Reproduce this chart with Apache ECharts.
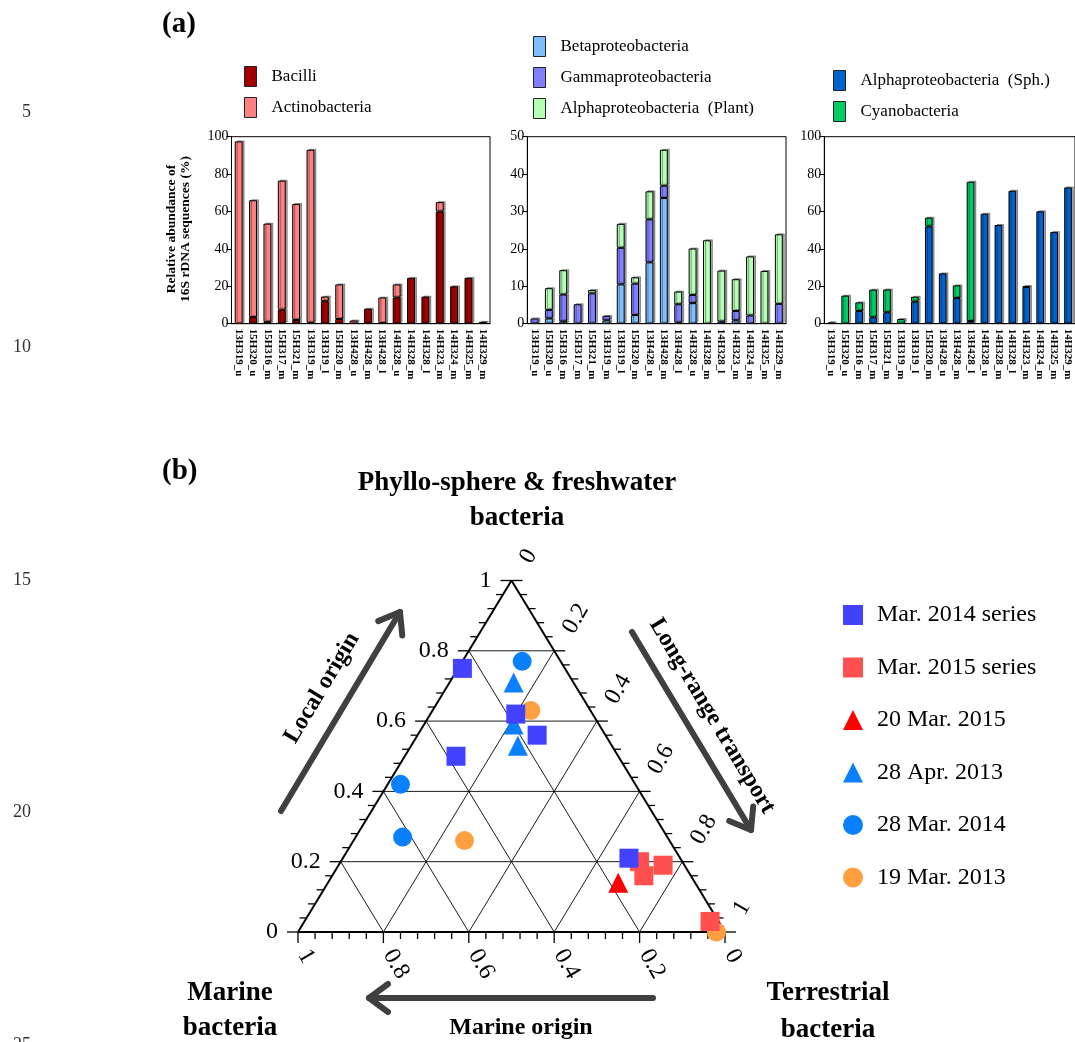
<!DOCTYPE html>
<html><head><meta charset="utf-8">
<script src="https://cdn.jsdelivr.net/npm/echarts@6/dist/echarts.min.js"></script>
<style>html,body{margin:0;padding:0;background:#fff}#c{width:1075px;height:1042px}</style>
</head><body><div id="c"></div>
<script>
// ---------- Panel (a) data ----------
const categories = ['13H319_u','15H320_u','15H316_m','15H317_m','15H321_m','13H319_m','13H319_l','15H320_m','13H428_u','13H428_m','13H428_l','14H328_u','14H328_m','14H328_l','14H323_m','14H324_m','14H325_m','14H329_m'];
const bacilli        = [0, 3.5, 1, 7.5, 2, 0.5, 12, 2.5, 0, 8, 0.3, 14, 24.5, 14.5, 60, 20, 24.5, 1];
const actinobacteria = [97.5, 62.5, 52.5, 69, 62, 92.5, 2.5, 18.5, 1.7, 0, 13.7, 7, 0, 0, 5, 0, 0, 0];
const betaproteo     = [0, 1.4, 0.6, 0, 0, 0.9, 10.5, 2.3, 16.4, 33.6, 0.3, 5.5, 0, 0, 0.9, 0, 0, 0];
const gammaproteo    = [1.4, 2.3, 7.2, 5.2, 8.1, 1.2, 9.8, 8.4, 11.5, 3.3, 4.9, 2.2, 0, 0.6, 2.5, 2.2, 0, 5.3];
const alphaPlant     = [0, 5.8, 6.5, 0, 0.9, 0, 6.4, 1.7, 7.5, 9.6, 3.4, 12.4, 22.3, 13.6, 8.5, 15.8, 14.1, 18.6];
const alphaSph       = [0.7, 0, 6.8, 3.4, 6.1, 0, 11.8, 52, 26.9, 13.7, 1.4, 58.8, 52.8, 71.1, 19.6, 60.1, 49, 72.9];
const cyanobacteria  = [0, 15, 4.6, 14.8, 12.2, 2.5, 2.6, 4.7, 0, 6.8, 74.5, 0, 0, 0, 0.4, 0, 0, 0];
const yMaxA = [100, 50, 100];
const yStepA = [20, 10, 20];

// ---------- Panel (b) data: [Phyllosphere/freshwater, Terrestrial, Marine] ----------
const mar2014Series = [[0.75,0.01,0.24],[0.62,0.20,0.18],[0.56,0.28,0.16],[0.50,0.12,0.38],[0.21,0.67,0.12]];
const mar2015Series = [[0.20,0.70,0.10],[0.16,0.73,0.11],[0.19,0.76,0.05],[0.03,0.95,0.02]];
const mar20_2015    = [[0.14,0.68,0.18]];
const apr28_2013    = [[0.71,0.15,0.14],[0.59,0.21,0.20],[0.53,0.25,0.22]];
const mar28_2014    = [[0.77,0.14,0.09],[0.42,0.03,0.55],[0.27,0.11,0.62]];
const mar19_2013    = [[0.63,0.23,0.14],[0.26,0.26,0.48],[0.00,0.98,0.02]];
const ternTickValues = [0, 0.2, 0.4, 0.6, 0.8, 1];
const ternTickLabels = ['0', '0.2', '0.4', '0.6', '0.8', '1'];
const ternMinorPerMajor = 5;

// ---------- build ----------
const SERIF = '"Liberation Serif", "Times New Roman", serif';
const chart = echarts.init(document.getElementById('c'), null, {renderer: 'canvas', width: 1075, height: 1042});

function tern(P, T) { return [T + P / 2, P]; }

const gridSegs = [];
gridSegs.push([...tern(0,0), ...tern(1,0), 2]);
gridSegs.push([...tern(1,0), ...tern(0,1), 2]);
gridSegs.push([...tern(0,0), ...tern(0,1), 2]);
ternTickValues.filter(v => v > 0 && v < 1).forEach(v => {
  gridSegs.push([...tern(v,0), ...tern(v,1-v), 1]);
  gridSegs.push([...tern(0,v), ...tern(1-v,v), 1]);
  gridSegs.push([...tern(0,1-v), ...tern(1-v,0), 1]);
});
const tickMarks = [];
const nMinor = (ternTickValues.length - 1) * ternMinorPerMajor;
for (let k = 0; k <= nMinor; k++) {
  const v = k / nMinor, major = k % ternMinorPerMajor === 0 ? 1 : 0;
  tickMarks.push([...tern(v, 0), 0, major]);
  tickMarks.push([...tern(0, 1 - v), 1, major]);
  tickMarks.push([...tern(1 - v, v), 2, major]);
}
const labelData = [];
ternTickValues.forEach((v, i) => {
  labelData.push([...tern(v, 0), 0, i]);
  labelData.push([...tern(0, 1 - v), 1, i]);
  labelData.push([...tern(1 - v, v), 2, i]);
});

const barGrids = [
  {left: 231.5, top: 136.7, width: 258.5, height: 187},
  {left: 527.3, top: 136.7, width: 258.7, height: 187},
  {left: 824.3, top: 136.7, width: 258.7, height: 187}
];
const grid = barGrids.map(g => Object.assign({show: true, borderColor: '#000', borderWidth: 1, backgroundColor: 'transparent'}, g));
grid.push({left: 298, top: 580.5, width: 427, height: 351.5});

const xAxis = barGrids.map((g, i) => ({
  type: 'category', gridIndex: i, data: categories,
  axisLine: {lineStyle: {color: '#000', width: 1}}, axisTick: {show: false},
  axisLabel: {rotate: -90, interval: 0, fontSize: 11, fontWeight: 'bold', color: '#000', margin: 5, fontFamily: SERIF}
}));
xAxis.push({type: 'value', gridIndex: 3, min: 0, max: 1, show: false});
const yAxis = barGrids.map((g, i) => ({
  type: 'value', gridIndex: i, min: 0, max: yMaxA[i], interval: yStepA[i],
  axisLine: {show: true, lineStyle: {color: '#000', width: 1}},
  axisTick: {show: true, length: 5, lineStyle: {color: '#000'}},
  splitLine: {show: false},
  axisLabel: {fontSize: 14, color: '#000', margin: 3, fontFamily: SERIF}
}));
yAxis.push({type: 'value', gridIndex: 3, min: 0, max: 1, show: false});

function barSeries(name, data, color, idx) {
  return {
    type: 'bar', name, xAxisIndex: idx, yAxisIndex: idx, stack: 'st' + idx,
    data: data.map(v => v === 0 ? '-' : v), barWidth: '55%',
    itemStyle: {color, borderColor: '#000', borderWidth: 1, shadowColor: 'rgba(0,0,0,0.35)', shadowOffsetX: 2, shadowOffsetY: -1, shadowBlur: 0},
    emphasis: {disabled: true}
  };
}
const C = {
  bac: '#A30000', act: '#FF8080', beta: '#80BFFF', gam: '#8080FF', plant: '#B3FFB3', sph: '#0062CC', cyan: '#00CC66'
};
const series = [
  barSeries('Bacilli', bacilli, C.bac, 0),
  barSeries('Actinobacteria', actinobacteria, C.act, 0),
  barSeries('Betaproteobacteria', betaproteo, C.beta, 1),
  barSeries('Gammaproteobacteria', gammaproteo, C.gam, 1),
  barSeries('Alphaproteobacteria  (Plant)', alphaPlant, C.plant, 1),
  barSeries('Alphaproteobacteria  (Sph.)', alphaSph, C.sph, 2),
  barSeries('Cyanobacteria', cyanobacteria, C.cyan, 2)
];

// ternary frame
series.push({
  type: 'custom', xAxisIndex: 3, yAxisIndex: 3, z: 1, silent: true, data: gridSegs,
  encode: {x: [0, 2], y: [1, 3]},
  renderItem(params, api) {
    const a = api.coord([api.value(0), api.value(1)]);
    const b = api.coord([api.value(2), api.value(3)]);
    return {type: 'line', shape: {x1: a[0], y1: a[1], x2: b[0], y2: b[1]}, style: {stroke: '#000', lineWidth: api.value(4) > 1 ? 2 : 0.9}};
  }
});
const tickDirs = [[-1, 0], [0, 1], [1, 0]];
series.push({
  type: 'custom', xAxisIndex: 3, yAxisIndex: 3, z: 1, silent: true, data: tickMarks,
  encode: {x: 0, y: 1},
  renderItem(params, api) {
    const p = api.coord([api.value(0), api.value(1)]);
    const d = tickDirs[api.value(2)], len = api.value(3) ? 11 : 7;
    return {type: 'line', shape: {x1: p[0], y1: p[1], x2: p[0] + d[0] * len, y2: p[1] + d[1] * len}, style: {stroke: '#000', lineWidth: 1.3}};
  }
});
series.push({
  type: 'custom', xAxisIndex: 3, yAxisIndex: 3, z: 1, silent: true, data: labelData,
  encode: {x: 0, y: 1},
  renderItem(params, api) {
    const p = api.coord([api.value(0), api.value(1)]);
    const side = api.value(2), txt = ternTickLabels[api.value(3)];
    const st = {text: txt, fill: '#000', font: '24px ' + SERIF, verticalAlign: 'middle'};
    if (side === 0) return {type: 'text', x: p[0] - 20, y: p[1], style: Object.assign(st, {align: 'right'})};
    if (side === 1) return {type: 'text', x: p[0] + 5, y: p[1] + 19, rotation: -Math.PI / 3, style: Object.assign(st, {align: 'left'})};
    return {type: 'text', x: p[0] + 14, y: p[1] - 19, rotation: Math.PI / 3, style: Object.assign(st, {align: 'left'})};
  }
});

const ternDefs = [
  {name: 'Mar. 2014 series', pts: mar2014Series, symbol: 'rect', color: '#4343FF', size: 19, z: 8},
  {name: 'Mar. 2015 series', pts: mar2015Series, symbol: 'rect', color: '#FF4F4F', size: 19, z: 7},
  {name: '20 Mar. 2015', pts: mar20_2015, symbol: 'triangle', color: '#FF0000', size: 20, z: 6},
  {name: '28 Apr. 2013', pts: apr28_2013, symbol: 'triangle', color: '#0A80FF', size: 20, z: 5},
  {name: '28 Mar. 2014', pts: mar28_2014, symbol: 'circle', color: '#0A80FF', size: 19, z: 4},
  {name: '19 Mar. 2013', pts: mar19_2013, symbol: 'circle', color: '#FF9F40', size: 19, z: 3}
];
ternDefs.forEach(d => series.push({
  type: 'scatter', name: d.name, xAxisIndex: 3, yAxisIndex: 3, symbol: d.symbol, symbolSize: d.size, z: d.z,
  data: d.pts.map(p => tern(p[0], p[1])), itemStyle: {color: d.color, opacity: 1}, emphasis: {disabled: true}
}));

const legTxt = {fontFamily: SERIF, fontSize: 17, color: '#000', padding: [0, 0, 0, 10]};
const barLegendBase = {orient: 'vertical', icon: 'rect', itemWidth: 12, itemHeight: 20, itemGap: 10, padding: 0,
  textStyle: legTxt, itemStyle: {borderColor: '#222', borderWidth: 1, shadowBlur: 0, shadowOffsetX: 0, shadowOffsetY: 0}, selectedMode: false};
const legend = [
  Object.assign({}, barLegendBase, {left: 244, top: 66, data: ['Bacilli', 'Actinobacteria']}),
  Object.assign({}, barLegendBase, {left: 533, top: 36, data: ['Betaproteobacteria', 'Gammaproteobacteria', 'Alphaproteobacteria  (Plant)']}),
  Object.assign({}, barLegendBase, {left: 833, top: 70, data: ['Alphaproteobacteria  (Sph.)', 'Cyanobacteria']}),
  {orient: 'vertical', left: 843, top: 603, padding: 0, itemWidth: 20, itemHeight: 20, itemGap: 28.5, selectedMode: false,
   textStyle: {fontFamily: SERIF, fontSize: 24, color: '#000', padding: [0, 0, 0, 9]},
   data: ternDefs.map(d => d.name)}
];

function arrow(x1, y1, x2, y2) {
  const dx = x2 - x1, dy = y2 - y1, L = Math.hypot(dx, dy), ux = dx / L, uy = dy / L, nx = -uy, ny = ux, h = 19, w = 14;
  const st = {stroke: '#404040', lineWidth: 6, lineCap: 'round', lineJoin: 'round', fill: null};
  return [
    {type: 'line', shape: {x1, y1, x2, y2}, style: st},
    {type: 'polyline', shape: {points: [[x2 - ux * h + nx * w, y2 - uy * h + ny * w], [x2, y2], [x2 - ux * h - nx * w, y2 - uy * h - ny * w]]}, style: st}
  ];
}
function txt(text, x, y, font, opts) {
  return Object.assign({type: 'text', x, y, style: {text, font, fill: '#000', align: 'center', verticalAlign: 'middle'}}, opts || {});
}
const B = 'bold ';
const graphic = [
  txt('(a)', 162, 25, '', {style: {text: '(a)', font: B + '29px ' + SERIF, fill: '#000', align: 'left', verticalAlign: 'middle'}}),
  txt('(b)', 162, 472, '', {style: {text: '(b)', font: B + '29px ' + SERIF, fill: '#000', align: 'left', verticalAlign: 'middle'}}),
  txt('', 179, 229, '', {rotation: Math.PI / 2, style: {text: 'Relative abundance of\n16S rDNA sequences (%)', font: B + '13.5px ' + SERIF, fill: '#000', align: 'center', verticalAlign: 'middle', lineHeight: 14}}),
  txt('Phyllo-sphere & freshwater', 517, 483, B + '27px ' + SERIF),
  txt('bacteria', 517, 518, B + '27px ' + SERIF),
  txt('Marine', 230, 993, B + '27px ' + SERIF),
  txt('bacteria', 230, 1028, B + '27px ' + SERIF),
  txt('Terrestrial', 828, 993, B + '27px ' + SERIF),
  txt('bacteria', 828, 1030, B + '27px ' + SERIF),
  txt('Marine origin', 521, 1028, B + '24px ' + SERIF),
  txt('Local origin', 322, 688, B + '24px ' + SERIF, {rotation: 59 * Math.PI / 180}),
  txt('Long-range transport', 712, 716, B + '24px ' + SERIF, {rotation: -59 * Math.PI / 180}),
  ...arrow(281, 811, 400, 612),
  ...arrow(632, 632, 751, 830),
  ...arrow(653, 998, 369, 998)
];
[['5', 112], ['10', 347], ['15', 580], ['20', 812], ['25', 1045]].forEach(([t, y]) => {
  graphic.push({type: 'text', x: 31, y, style: {text: t, font: '18px ' + SERIF, fill: '#333', align: 'right', verticalAlign: 'middle'}});
});

chart.setOption({
  animation: false,
  backgroundColor: '#fff',
  textStyle: {fontFamily: SERIF},
  grid, xAxis, yAxis, series, legend, graphic
});
</script></body></html>
